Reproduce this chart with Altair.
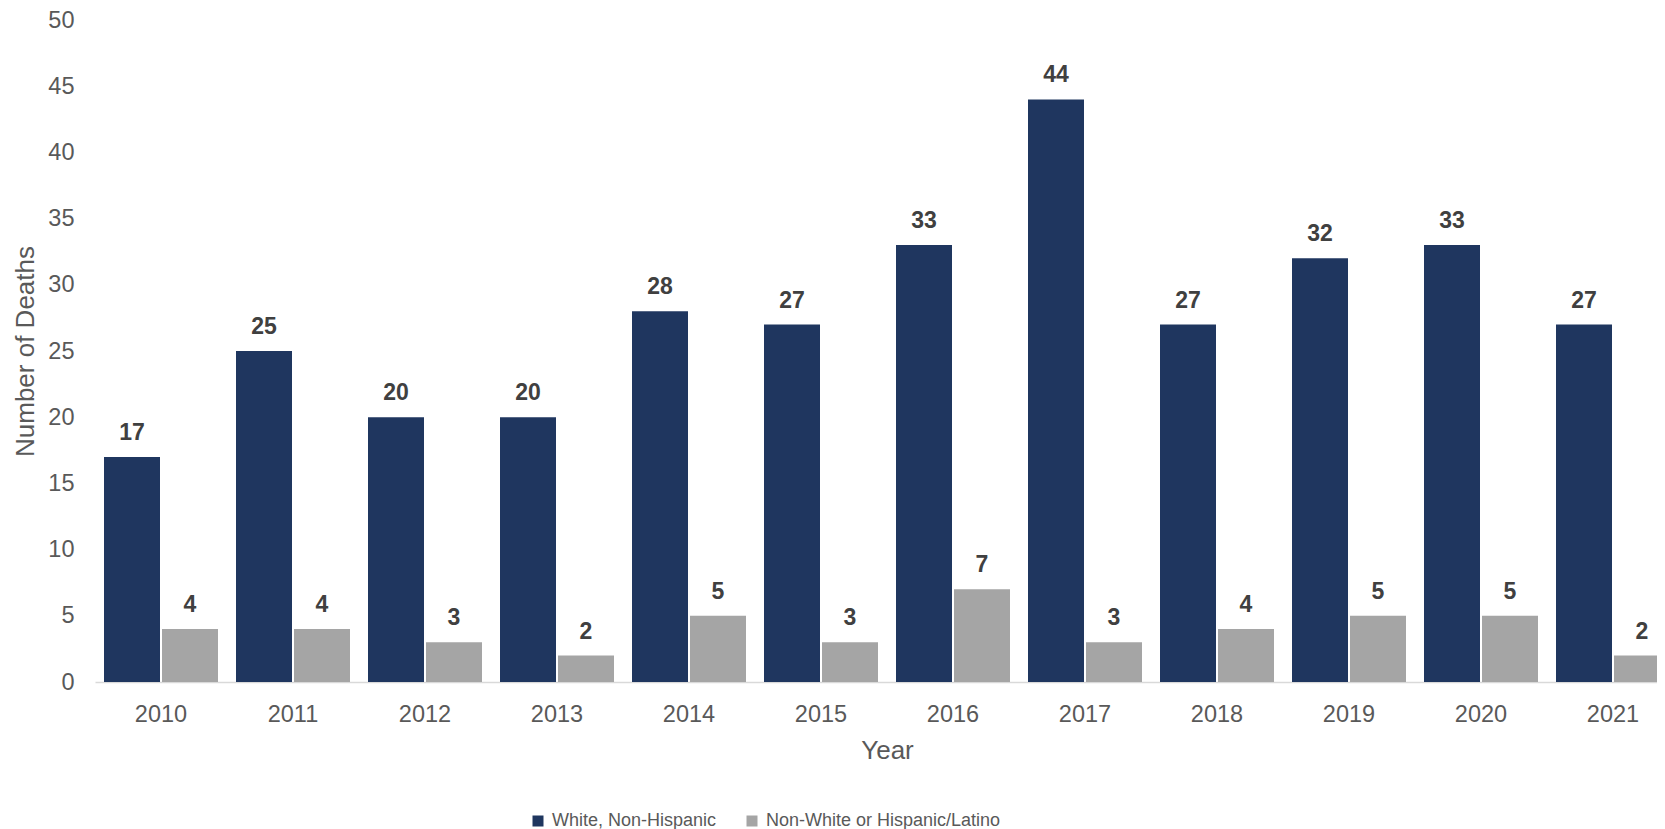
import altair as alt
import pandas as pd

years = ["2010", "2011", "2012", "2013", "2014", "2015", "2016", "2017", "2018", "2019", "2020", "2021"]
white_non_hispanic = [17, 25, 20, 20, 28, 27, 33, 44, 27, 32, 33, 27]
nonwhite_or_hispanic = [4, 4, 3, 2, 5, 3, 7, 3, 4, 5, 5, 2]
groups = ["White, Non-Hispanic", "Non-White or Hispanic/Latino"]
colors = ["#1F365F", "#A5A5A5"]
y_ticks = [0, 5, 10, 15, 20, 25, 30, 35, 40, 45, 50]

rows = []
for i, yr in enumerate(years):
    rows.append({"Year": yr, "Group": groups[0], "Deaths": white_non_hispanic[i]})
    rows.append({"Year": yr, "Group": groups[1], "Deaths": nonwhite_or_hispanic[i]})
df = pd.DataFrame(rows)

FONT = "Liberation Sans"
GRAY = "#595959"

base = alt.Chart(df).encode(
    x=alt.X(
        "Year:N",
        sort=years,
        scale=alt.Scale(paddingInner=18 / 132, paddingOuter=9 / 132),
        axis=alt.Axis(
            title="Year",
            labelAngle=0,
            ticks=False,
            domainColor="#D9D9D9",
            domainWidth=1.5,
            labelPadding=20,
            labelFontSize=23.5,
            labelColor=GRAY,
            labelFont=FONT,
            titleFont=FONT,
            titleFontSize=26,
            titleFontWeight="normal",
            titleColor=GRAY,
            titleX=792,
            titleY=76,
            titleBaseline="alphabetic",
        ),
    ),
    xOffset=alt.XOffset(
        "Group:N",
        sort=groups,
        scale=alt.Scale(domain=groups, paddingInner=0.0345, paddingOuter=0),
    ),
    y=alt.Y(
        "Deaths:Q",
        scale=alt.Scale(domain=[0, 50], nice=False),
        axis=alt.Axis(
            title="Number of Deaths",
            values=y_ticks,
            grid=False,
            domain=False,
            ticks=False,
            labelPadding=21,
            labelFontSize=23.5,
            labelColor=GRAY,
            labelFont=FONT,
            titleFont=FONT,
            titleFontSize=26,
            titleFontWeight="normal",
            titleColor=GRAY,
            titleX=-62,
            titleY=331,
            titleAngle=270,
            titleBaseline="alphabetic",
            titleAlign="center",
        ),
    ),
)

bars = base.mark_bar().encode(
    color=alt.Color(
        "Group:N",
        sort=groups,
        scale=alt.Scale(domain=groups, range=colors),
        legend=alt.Legend(
            orient="none",
            legendX=434,
            legendY=792,
            direction="horizontal",
            title=None,
            symbolType="square",
            symbolSize=121,
            symbolStrokeWidth=0,
            labelFontSize=18,
            labelFont=FONT,
            labelColor=GRAY,
            labelOffset=5,
            labelLimit=500,
            columnPadding=26,
            padding=0,
        ),
    )
)

labels = base.mark_text(
    dy=-17,
    baseline="alphabetic",
    fontWeight="bold",
    fontSize=23,
    font=FONT,
    color="#404040",
).encode(text="Deaths:Q")

chart = (
    alt.layer(bars, labels)
    .properties(
        width=1584,
        height=662,
        autosize=alt.AutoSizeParams(type="none"),
        padding={"left": 87, "top": 12, "right": -22, "bottom": 147},
    )
    .configure_view(stroke=None)
)

chart.save("out.html", embed_options={"renderer": "svg", "actions": False})
